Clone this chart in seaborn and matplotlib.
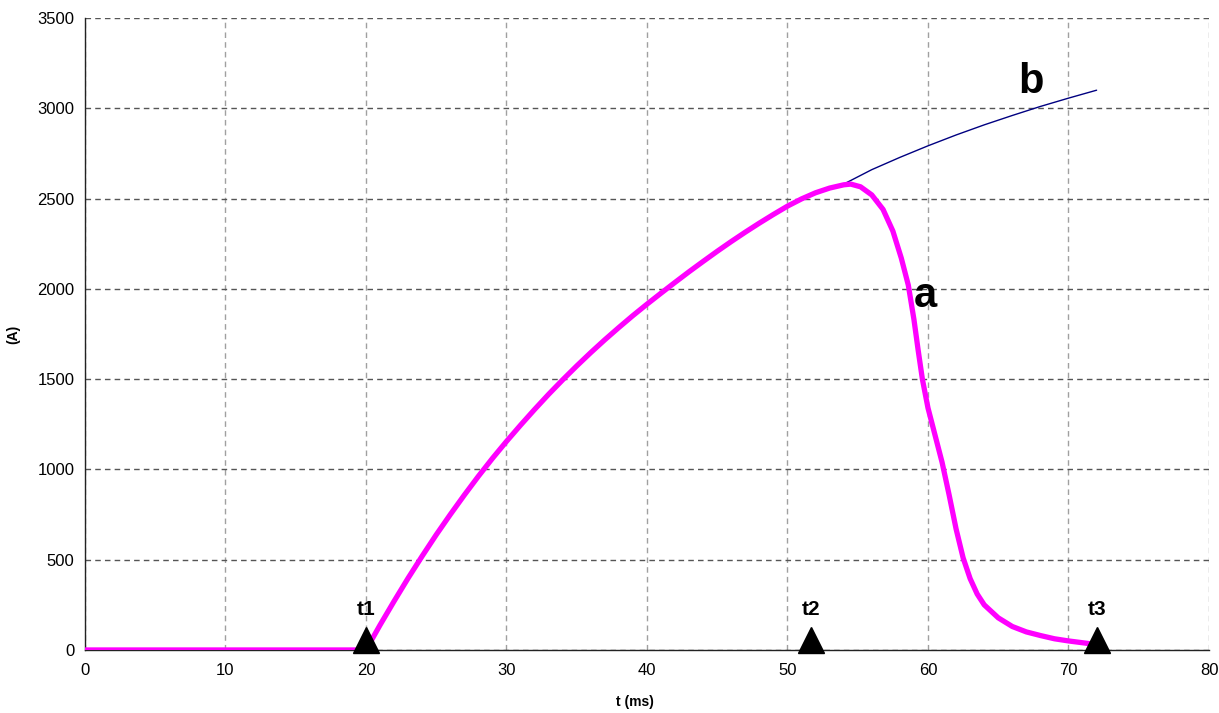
import numpy as np
import pandas as pd
import matplotlib
matplotlib.use("Agg")
import matplotlib.pyplot as plt
import matplotlib.transforms as mtransforms
import seaborn as sns

# Current trace "a" (interrupted) — time in ms, current in A
t_a = [0, 10, 19.5, 20, 21, 22, 23, 24, 25, 26, 27, 28, 29, 30, 31, 32, 33, 34,
       35, 36, 37, 38, 39, 40, 41, 42, 43, 44, 45, 46, 47, 48, 49, 50, 51, 52,
       53, 54, 54.5, 55.2, 56, 56.8, 57.5, 58.1, 58.6, 59.0, 59.3, 59.6, 60.0,
       60.5, 61.0, 61.5, 62.0, 62.5, 63.0, 63.5, 64, 65, 66, 67, 68, 69, 70,
       71, 71.5]
i_a = [0, 0, 0, 0, 138, 270, 398, 520, 638, 750, 858, 962, 1061, 1155, 1245,
       1332, 1416, 1496, 1573, 1647, 1718, 1786, 1852, 1915, 1976, 2036, 2095,
       2152, 2208, 2262, 2314, 2364, 2412, 2458, 2498, 2532, 2558, 2576, 2580,
       2565, 2520, 2440, 2320, 2170, 2020, 1830, 1660, 1500, 1340, 1190, 1040,
       860, 670, 510, 395, 310, 250, 178, 130, 100, 80, 62, 50, 40, 35]

# Current trace "b" (prospective, not interrupted)
t_b = [54, 56, 58, 60, 62, 64, 66, 68, 70, 72]
i_b = [2580, 2660, 2728, 2792, 2852, 2908, 2960, 3010, 3056, 3100]

# Event markers on the time axis
event_t = [20.0, 51.7, 72.0]
event_labels = ["t1", "t2", "t3"]

x_ticks = list(range(0, 81, 10))
y_ticks = list(range(0, 3501, 500))

sns.set_style("white")
plt.rcParams["font.family"] = ["Liberation Sans", "DejaVu Sans"]
plt.rcParams["text.color"] = "black"
plt.rcParams["axes.labelcolor"] = "black"

fig = plt.figure(figsize=(12.19, 7.13), dpi=100)
ax = fig.add_axes([0.0697, 0.0884, 0.9221, 0.8864])

df_a = pd.DataFrame({"t": t_a, "i": i_a})
df_b = pd.DataFrame({"t": t_b, "i": i_b})

sns.lineplot(data=df_b, x="t", y="i", ax=ax, color="#000080", linewidth=1.0,
             sort=False, zorder=3)
sns.lineplot(data=df_a, x="t", y="i", ax=ax, color="#FF00FF", linewidth=3.8,
             sort=False, zorder=4)

ax.set_xlim(0, 80)
ax.set_ylim(0, 3500)
ax.set_xticks(x_ticks)
ax.set_yticks(y_ticks)

# Gridlines: darker dashed horizontals, lighter dashed verticals
ax.yaxis.grid(True, linestyle=(0, (4, 3)), color="#555555", linewidth=1.0)
ax.xaxis.grid(True, linestyle=(0, (4, 3)), color="#A0A0A0", linewidth=1.0)
ax.set_axisbelow(True)

for side in ["top", "right"]:
    ax.spines[side].set_visible(False)
for side in ["left", "bottom"]:
    ax.spines[side].set_color("#222222")
    ax.spines[side].set_linewidth(1.0)

ax.tick_params(axis="both", direction="inout", length=7, width=1,
               color="#222222", labelsize=12, labelcolor="black")
ax.tick_params(axis="x", pad=6)
ax.tick_params(axis="y", pad=4)

ax.set_xlabel("t (ms)", fontsize=10, fontweight="bold")
ax.set_ylabel("(A)", fontsize=10, fontweight="bold")
ax.xaxis.set_label_coords(0.489, -0.071)
ax.yaxis.set_label_coords(-0.058, 0.5)

# Triangles sitting on the time axis, with their labels above
tri_offset = mtransforms.offset_copy(ax.transData, fig=fig, x=0, y=10, units="dots")
ax.plot(event_t, [0] * len(event_t), linestyle="none", marker="^",
        markersize=19, color="black", transform=tri_offset, clip_on=False,
        zorder=5)
lab_offset = mtransforms.offset_copy(ax.transData, fig=fig, x=0, y=31, units="dots")
for t, lab in zip(event_t, event_labels):
    ax.text(t, 0, lab, transform=lab_offset, ha="center", va="bottom",
            fontsize=15, fontweight="bold", zorder=6)

ax.text(59.8, 1960, "a", fontsize=30, fontweight="bold", ha="center",
        va="center", zorder=6)
ax.text(67.3, 3145, "b", fontsize=30, fontweight="bold", ha="center",
        va="center", zorder=6)

fig.savefig("out.png", dpi=100)
